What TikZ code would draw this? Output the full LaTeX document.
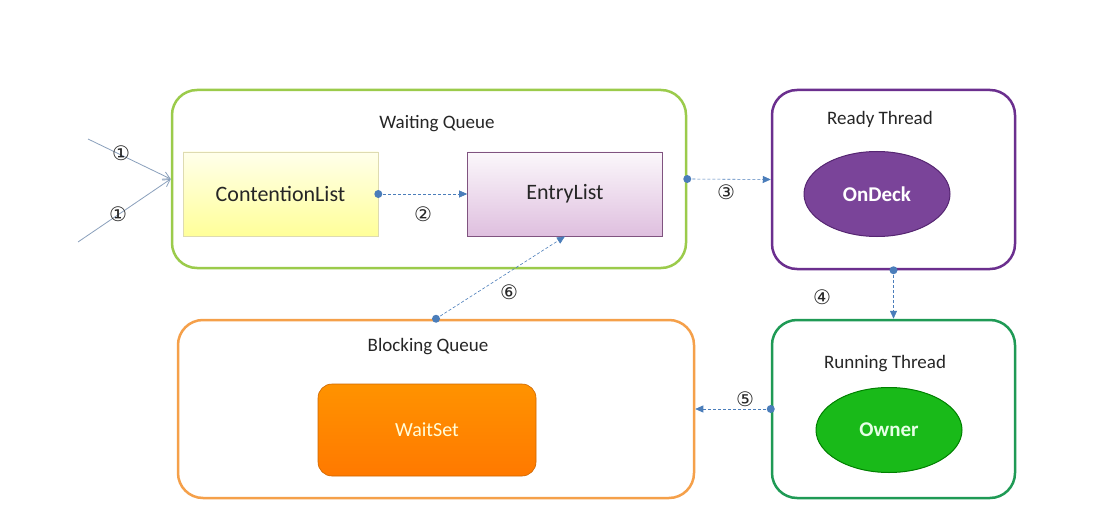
\documentclass[tikz,border=0pt]{standalone}
\usepackage{fontspec}
\setmainfont{Carlito}
\newfontfamily\symf{DejaVu Sans}
\usetikzlibrary{arrows.meta,shapes.geometric}
\definecolor{wqgreen}{HTML}{9BCB4B}
\definecolor{rdpurple}{HTML}{6B2F8E}
\definecolor{rngreen}{HTML}{1F9A55}
\definecolor{bqorange}{HTML}{F5A04A}
\definecolor{conn}{HTML}{4A7DBA}
\definecolor{inline}{HTML}{8AA0BC}
\begin{document}
\begin{tikzpicture}[x=1pt,y=-1pt,
  container/.style={draw, line width=2.5pt, rounded corners=25pt, inner sep=0pt},
  lbl/.style={font=\fontsize{19}{22}\selectfont, text=black!85},
  num/.style={font=\symf\fontsize{20}{22}\selectfont, text=black!85, inner sep=0pt},
  listbox/.style={draw, line width=0.6pt, minimum width=195pt, minimum height=84pt, font=\fontsize{22}{25}\selectfont, text=black!85},
  blob/.style={ellipse, draw, line width=1pt, minimum width=146pt, minimum height=85pt, font=\bfseries\fontsize{21}{24}\selectfont, inner sep=0pt},
  flow/.style={conn, line width=0.6pt, dash pattern=on 3pt off 2pt, -{Triangle[length=8pt,width=7pt]}},
  feed/.style={inline, line width=0.8pt, -{Straight Barb[length=7pt,width=8pt]}},
  dot/.style={fill=conn}
]
\useasboundingbox[fill=white] (0,0) rectangle (1110,513);

% containers
\node[container, draw=wqgreen, minimum width=514pt, minimum height=178pt] (wq) at (429,179) {};
\node[container, draw=rdpurple, minimum width=243pt, minimum height=179pt] (rt) at (893.5,179.5) {};
\node[container, draw=rngreen, minimum width=243pt, minimum height=178pt] (run) at (893.5,409) {};
\node[container, draw=bqorange, minimum width=516pt, minimum height=178pt] (bq) at (436,409) {};

% container labels
\node[lbl] (wqlbl) at (437,124) {Waiting Queue};
\node[lbl] (rtlbl) at (880,119) {Ready Thread};
\node[lbl] (runlbl) at (885,364) {Running Thread};
\node[lbl] (bqlbl) at (428,347) {Blocking Queue};

% inner nodes
\node[listbox, draw=yellow!40!gray!50, top color=yellow!8, bottom color=yellow!40] (cl) at (280.5,194) {ContentionList};
\node[listbox, draw=violet!35!gray, top color=violet!3, bottom color=violet!25] (el) at (565,194) {EntryList};
\node[blob, draw=rdpurple!80!black, fill=rdpurple!90, text=white] (od) at (877,194) {OnDeck};
\node[blob, draw=green!50!black, fill=green!70!black!90, text=green!10] (ow) at (889,430) {Owner};
\node[draw=orange!80!black, line width=0.6pt, rounded corners=14pt, minimum width=218pt, minimum height=92pt,
      top color=orange!85!yellow, bottom color=orange!95!red, text=yellow!15,
      font=\fontsize{20}{24}\selectfont] (ws) at (427,430) {WaitSet};

% incoming arrows
\coordinate (in1) at (88,139);
\coordinate (in2) at (78,242);
\draw[feed] (in1) -- (wq.west);
\draw[feed] (in2) -- (wq.west);
\node[num] (n1a) at (121,153) {①};
\node[num] (n1b) at (118,214) {①};

% flows
\draw[flow] (cl.east) -- (el.west);
\fill[dot] (cl.east) circle (4pt);
\node[num] (n2) at (423,214) {②};

\draw[flow] (wq.east) -- (rt.west);
\fill[dot] (wq.east) circle (4pt);
\node[num] (n3) at (726,192) {③};

\draw[flow] (rt.south) -- (run.north);
\fill[dot] (rt.south) circle (4pt);
\node[num] (n4) at (822,297) {④};

\draw[flow] (run.west) -- (bq.east);
\fill[dot] (run.west) circle (4pt);
\node[num] (n5) at (745,399) {⑤};

\draw[flow] (bq.north) -- (el.south);
\fill[dot] (bq.north) circle (4pt);
\node[num] (n6) at (509,292) {⑥};
\end{tikzpicture}
\end{document}
